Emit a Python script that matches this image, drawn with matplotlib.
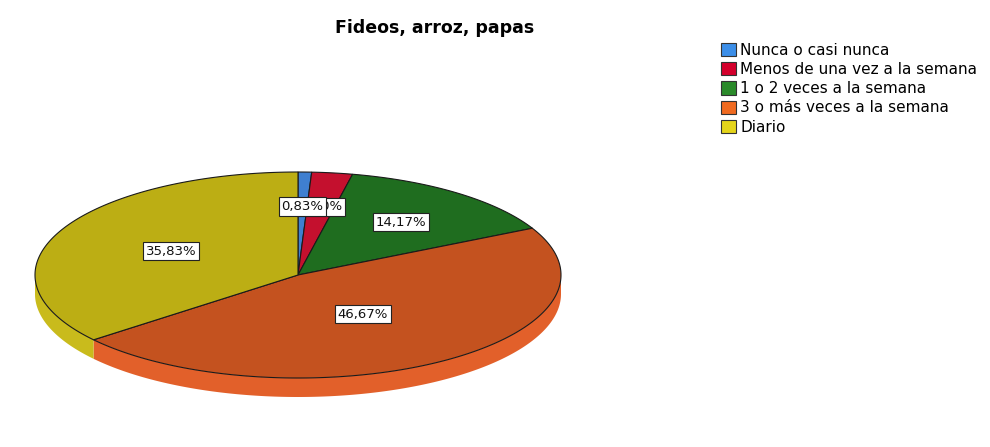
import numpy as np
import matplotlib
matplotlib.use('Agg')
import matplotlib.pyplot as plt
from matplotlib.patches import Polygon, Patch

plt.rcParams['font.family'] = ['DejaVu Sans']

title = "Fideos, arroz, papas"
categories = ["Nunca o casi nunca", "Menos de una vez a la semana",
              "1 o 2 veces a la semana", "3 o más veces a la semana", "Diario"]
percents = [0.83, 2.50, 14.17, 46.67, 35.83]

top_colors = ["#3f7fd0", "#c4102e", "#1f6d1f", "#c4521f", "#bcae14"]
side_colors = ["#4a8ae0", "#d81838", "#2a7d2a", "#e2602a", "#c9bb1c"]
legend_colors = ["#3b8ee8", "#d4002c", "#2a8a2a", "#f06a20", "#e4d41a"]

# pie geometry in pixel units (y grows downward)
cx, cy = 298, 275
rx, ry = 263, 103
depth = 19

fig = plt.figure(figsize=(9.9, 4.47), dpi=100)
ax = fig.add_axes([0, 0, 1, 1])
ax.set_xlim(0, 990)
ax.set_ylim(447, 0)
ax.axis('off')


def rim(a0, a1, n=200):
    # angles measured clockwise from 12 o'clock, in degrees
    t = np.radians(np.linspace(a0, a1, n))
    return cx + rx * np.sin(t), cy - ry * np.cos(t)


vals = np.array(percents)
edges = np.concatenate([[0], np.cumsum(vals)]) / vals.sum() * 360.0

# side wall, only the front half (90..270 deg) is visible
for i in range(len(vals)):
    a0, a1 = max(edges[i], 90), min(edges[i + 1], 270)
    if a1 <= a0:
        continue
    x, y = rim(a0, a1)
    pts = np.column_stack([np.concatenate([x, x[::-1]]),
                           np.concatenate([y, y[::-1] + depth])])
    ax.add_patch(Polygon(pts, closed=True, fc=side_colors[i], ec='none', zorder=1))

# top face wedges
for i in range(len(vals)):
    x, y = rim(edges[i], edges[i + 1])
    pts = np.column_stack([np.concatenate([[cx], x]), np.concatenate([[cy], y])])
    ax.add_patch(Polygon(pts, closed=True, fc=top_colors[i], ec='#1a1a1a',
                         lw=0.8, zorder=2))

# value labels at the sector centroids
for i, v in enumerate(vals):
    half = np.radians(edges[i + 1] - edges[i]) / 2
    mid = np.radians((edges[i] + edges[i + 1]) / 2)
    f = 2 * np.sin(half) / (3 * half)
    lx = cx + f * rx * np.sin(mid)
    ly = cy - f * ry * np.cos(mid)
    ax.text(lx, ly, f"{v:.2f}%".replace('.', ','), ha='center', va='center',
            fontsize=9.5, color='#111111', zorder=10 - i,
            bbox=dict(boxstyle='square,pad=0.2', fc='white', ec='#222222', lw=0.8))

ax.text(435, 28, title, ha='center', va='center', fontsize=12.5, fontweight='bold')

handles = [Patch(fc=c, ec='#333333', lw=0.8) for c in legend_colors]
fig.legend(handles, categories, loc='upper left', bbox_to_anchor=(721 / 990, 1 - 43 / 447),
           frameon=False, fontsize=11, handlelength=1.0, handleheight=0.95,
           handletextpad=0.25, labelspacing=0.27, borderpad=0, borderaxespad=0)

fig.savefig('out.png', dpi=100, facecolor='white')
